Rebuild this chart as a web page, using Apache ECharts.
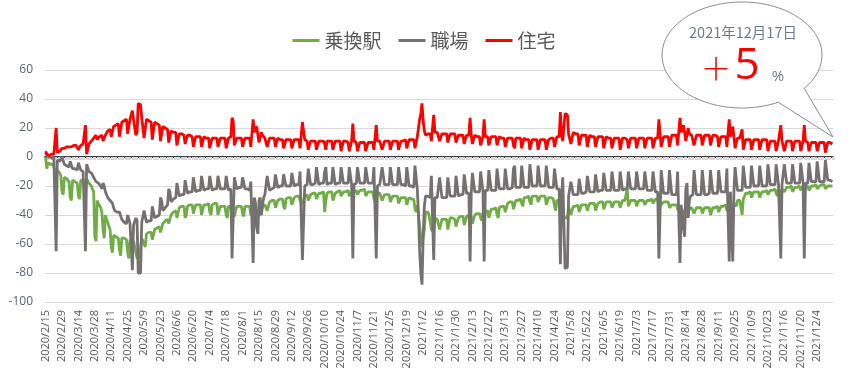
<!DOCTYPE html>
<html><head><meta charset="utf-8">
<script src="https://cdn.jsdelivr.net/npm/echarts@6/dist/echarts.min.js"></script>
<style>html,body{margin:0;padding:0;background:#fff}#c{width:848px;height:381px}</style>
</head><body><div id="c"></div>
<script>
// daily values from 2020/2/15 (Sat), grouped by week [Sat,Sun,Mon,Tue,Wed,Thu,Fri]
const seriesNames = ['乗換駅', '職場', '住宅'];
const startYear = 2020, startMonth = 2, startDay = 15;
const labelEvery = 14;
const yTicks = { min: -100, max: 60, step: 20 };

const transitWeeks = [
[0,-8,-4,-4,-5,-5,-5],[-5,-9,-12,-9,-10,-11,-13],[-24,-26,-14,-15,-15,-16,-17],[-28,-30,-16,-17,-17,-17,-18],
[-27,-29,-16,-16,-16,-17,-25],[-15,-14,-18,-19,-20,-21,-24],[-55,-58,-30,-32,-33,-35,-38],[-50,-56,-40,-43,-45,-48,-50],
[-62,-66,-54,-55,-55,-56,-56],[-64,-68,-56,-56,-56,-57,-57],[-66,-70,-57,-57,-66,-58,-58],[-66,-70,-69,-69,-68,-56,-56],
[-60,-62,-53,-53,-52,-52,-52],[-57,-58,-50,-49,-49,-48,-48],[-52,-53,-46,-45,-44,-44,-43],[-46,-47,-40,-39,-38,-38,-37],
[-42,-42,-35,-35,-34,-34,-34],[-42,-40,-34,-34,-33,-33,-33],[-39,-40,-33,-33,-33,-33,-33],[-40,-41,-33,-33,-33,-32,-32],
[-38,-40,-33,-33,-32,-32,-32],[-40,-41,-34,-34,-34,-34,-34],[-40,-42,-34,-34,-34,-38,-38],[-41,-42,-34,-34,-34,-34,-34],
[-39,-41,-34,-34,-34,-34,-34],[-40,-41,-38,-35,-36,-38,-40],[-40,-40,-37,-34,-33,-33,-33],[-37,-38,-31,-31,-30,-30,-30],
[-35,-36,-30,-30,-29,-29,-29],[-34,-36,-29,-29,-28,-28,-28],[-33,-34,-28,-28,-27,-27,-27],[-30,-31,-33,-33,-27,-27,-26],
[-30,-31,-26,-26,-25,-25,-25],[-29,-30,-25,-25,-25,-25,-24],[-38,-30,-25,-25,-24,-24,-24],[-30,-29,-25,-25,-24,-24,-23],
[-27,-28,-24,-24,-24,-23,-23],[-27,-28,-24,-30,-24,-23,-23],[-26,-27,-23,-23,-23,-23,-22],[-27,-28,-24,-24,-24,-24,-24],
[-29,-30,-31,-25,-25,-25,-25],[-30,-31,-26,-26,-26,-26,-26],[-31,-32,-27,-27,-27,-27,-27],[-32,-32,-28,-28,-28,-28,-28],
[-33,-34,-28,-28,-29,-29,-29],[-36,-38,-33,-40,-48,-55,-62],[-55,-50,-38,-37,-38,-40,-41],[-50,-50,-52,-42,-42,-43,-43],
[-50,-51,-43,-43,-43,-43,-43],[-50,-51,-42,-42,-42,-42,-43],[-48,-49,-42,-41,-41,-41,-41],[-47,-48,-41,-41,-40,-46,-41],
[-46,-47,-40,-39,-39,-39,-39],[-42,-44,-38,-44,-38,-37,-37],[-42,-43,-36,-36,-36,-35,-35],[-40,-42,-35,-34,-34,-34,-34],
[-38,-39,-32,-32,-31,-31,-31],[-36,-35,-30,-30,-30,-29,-29],[-32,-34,-28,-28,-28,-27,-27],[-31,-33,-27,-27,-27,-27,-27],
[-31,-32,-27,-27,-27,-27,-27],[-33,-34,-28,-28,-28,-28,-29],[-34,-37,-30,-30,-30,-40,-34],[-40,-41,-42,-42,-42,-34,-34],
[-40,-40,-34,-34,-34,-34,-33],[-38,-39,-33,-33,-33,-33,-33],[-37,-38,-32,-32,-32,-32,-32],[-37,-37,-32,-31,-31,-31,-31],
[-36,-36,-31,-31,-31,-31,-31],[-35,-36,-31,-31,-31,-31,-31],[-35,-35,-30,-30,-30,-30,-22],[-34,-35,-30,-30,-30,-30,-30],
[-34,-34,-30,-30,-30,-30,-30],[-33,-34,-30,-30,-30,-29,-29],[-32,-33,-29,-29,-29,-34,-35],[-33,-34,-31,-31,-31,-31,-31],
[-35,-36,-33,-33,-33,-33,-33],[-36,-37,-38,-35,-36,-38,-40],[-41,-41,-38,-36,-35,-35,-35],[-39,-40,-35,-35,-35,-35,-35],
[-39,-40,-35,-35,-35,-35,-35],[-40,-40,-35,-35,-35,-35,-34],[-38,-39,-34,-34,-34,-34,-33],[-37,-38,-38,-33,-33,-38,-32],
[-33,-34,-30,-30,-30,-30,-40],[-29,-30,-25,-25,-25,-25,-24],[-28,-29,-24,-24,-24,-24,-24],[-28,-28,-24,-24,-24,-24,-23],
[-26,-27,-23,-23,-23,-23,-22],[-25,-27,-22,-22,-27,-22,-21],[-24,-25,-21,-21,-21,-21,-20],[-24,-25,-21,-21,-21,-20,-20],
[-23,-24,-20,-26,-20,-20,-20],[-23,-24,-20,-20,-20,-20,-19],[-22,-23,-20,-19,-19,-19,-19],[-22,-23,-20,-20,-20,-20,-20]
];

const workplaceWeeks = [
[3,2,0,-1,0,-1,-1],[1,0,-65,-2,-3,-3,-4],[0,1,-5,-6,-6,-7,-7],[-3,-3,-8,-8,-8,-9,-9],
[-4,-4,-9,-9,-10,-10,-65],[-5,-6,-10,-10,-11,-12,-14],[-15,-17,-17,-18,-19,-20,-22],[-18,-20,-24,-26,-28,-29,-30],
[-30,-32,-35,-37,-38,-38,-39],[-38,-39,-43,-44,-45,-45,-46],[-40,-41,-46,-47,-78,-47,-47],[-42,-44,-80,-81,-80,-45,-46],
[-37,-38,-45,-45,-44,-44,-44],[-34,-35,-42,-42,-41,-40,-40],[-28,-30,-37,-36,-35,-34,-33],[-22,-24,-31,-30,-29,-29,-28],
[-18,-19,-27,-27,-26,-26,-26],[-16,-17,-25,-25,-24,-24,-24],[-14,-15,-24,-24,-23,-23,-23],[-13,-14,-23,-23,-22,-22,-22],
[-13,-14,-23,-22,-22,-22,-22],[-13,-14,-22,-22,-22,-22,-22],[-13,-14,-23,-23,-22,-70,-70],[-14,-15,-22,-22,-21,-21,-21],
[-14,-15,-22,-22,-22,-22,-23],[-17,-18,-73,-28,-32,-48,-53],[-30,-28,-40,-33,-28,-26,-25],[-13,-13,-23,-22,-22,-22,-21],
[-12,-12,-21,-21,-20,-20,-20],[-12,-11,-20,-20,-20,-20,-20],[-11,-11,-20,-20,-19,-19,-19],[-10,-10,-71,-71,-20,-19,-19],
[-8,-8,-19,-19,-19,-18,-18],[-7,-7,-19,-19,-18,-18,-18],[-10,-7,-19,-19,-18,-18,-18],[-7,-7,-19,-18,-18,-18,-18],
[-7,-6,-18,-18,-18,-18,-18],[-7,-7,-19,-70,-19,-18,-18],[-7,-6,-18,-18,-18,-18,-18],[-7,-7,-18,-18,-18,-18,-18],
[-7,-7,-70,-20,-19,-19,-19],[-7,-7,-19,-19,-19,-19,-19],[-7,-7,-19,-19,-19,-19,-19],[-7,-6,-19,-19,-19,-19,-20],
[-7,-7,-20,-20,-20,-20,-21],[-6,-5,-22,-40,-65,-80,-88],[-55,-34,-27,-26,-27,-28,-28],[-13,-12,-71,-28,-28,-28,-28],
[-14,-13,-28,-28,-28,-28,-28],[-14,-13,-27,-27,-27,-27,-27],[-13,-12,-27,-26,-26,-26,-26],[-12,-11,-25,-25,-25,-72,-25],
[-11,-10,-24,-24,-24,-24,-24],[-10,-9,-24,-72,-23,-23,-23],[-9,-8,-23,-23,-23,-23,-23],[-8,-8,-22,-22,-22,-22,-22],
[-8,-7,-22,-22,-22,-22,-21],[-8,-6,-21,-21,-21,-21,-21],[-6,-6,-21,-21,-21,-21,-21],[-5,-5,-20,-20,-20,-20,-20],
[-6,-5,-20,-20,-20,-20,-20],[-6,-6,-21,-21,-21,-21,-21],[-8,-9,-22,-22,-22,-74,-30],[-14,-15,-77,-77,-76,-27,-26],
[-17,-16,-26,-26,-26,-26,-26],[-15,-14,-25,-25,-25,-24,-24],[-13,-12,-24,-24,-24,-24,-24],[-12,-11,-24,-24,-23,-23,-23],
[-11,-10,-23,-23,-23,-23,-23],[-10,-10,-23,-23,-23,-23,-23],[-10,-9,-23,-23,-22,-22,-22],[-10,-10,-22,-22,-22,-22,-22],
[-10,-9,-22,-22,-22,-22,-22],[-10,-9,-23,-23,-23,-23,-23],[-10,-9,-24,-24,-24,-70,-70],[-9,-10,-25,-25,-25,-25,-25],
[-9,-9,-26,-26,-26,-26,-26],[-10,-11,-73,-33,-40,-50,-55],[-22,-18,-42,-30,-27,-26,-26],[-9,-9,-26,-26,-26,-26,-26],
[-9,-9,-26,-26,-26,-25,-25],[-9,-9,-25,-25,-25,-25,-25],[-9,-8,-24,-24,-24,-24,-24],[-8,-8,-72,-24,-24,-72,-24],
[-7,-7,-23,-23,-23,-23,-23],[-6,-6,-21,-21,-21,-21,-21],[-6,-5,-20,-20,-20,-20,-20],[-6,-5,-20,-20,-20,-20,-20],
[-5,-5,-19,-19,-19,-19,-19],[-5,-5,-19,-19,-70,-19,-19],[-5,-4,-18,-18,-18,-18,-18],[-5,-4,-18,-18,-18,-18,-18],
[-4,-4,-18,-70,-18,-18,-18],[-4,-3,-17,-17,-17,-17,-17],[-3,-3,-17,-17,-17,-17,-17],[-2,-1,-16,-16,-16,-17,-17]
];

const residentialWeeks = [
[4,2,1,1,1,2,2],[2,3,20,3,4,4,5],[6,6,6,6,7,7,7],[7,7,7,8,8,8,8],
[5,6,8,8,9,9,22],[2,1,9,10,11,12,13],[13,15,12,13,14,14,15],[11,12,15,16,18,18,19],
[14,15,21,22,22,23,23],[14,15,24,25,25,26,26],[16,17,26,27,32,26,27],[15,17,37,37,36,27,26],
[13,14,26,25,25,24,24],[12,12,24,23,23,22,22],[11,12,21,20,20,19,19],[10,10,18,17,17,17,17],
[8,9,16,16,16,15,15],[9,8,15,15,15,15,14],[7,7,14,14,14,14,14],[7,6,14,14,13,13,13],
[6,6,13,13,13,13,13],[7,6,13,13,13,13,13],[6,6,13,13,14,27,25],[8,7,13,13,13,13,13],
[7,6,13,13,13,13,13],[7,7,26,17,18,21,22],[10,9,17,15,14,13,13],[7,6,13,13,13,13,13],
[7,6,13,13,12,12,12],[6,5,12,12,12,12,12],[6,6,12,12,12,12,12],[6,6,24,23,12,12,11],
[5,5,11,11,11,11,11],[5,4,11,11,11,11,11],[9,5,11,11,11,11,11],[5,5,11,11,11,11,11],
[4,4,11,11,11,10,10],[4,4,11,23,11,10,10],[4,4,10,10,10,10,10],[4,4,10,10,10,10,10],
[5,5,22,11,11,11,11],[5,5,11,11,11,11,11],[5,5,11,11,11,11,11],[5,5,11,11,11,11,12],
[6,6,12,12,12,12,12],[6,6,14,20,26,30,37],[25,18,15,15,16,16,16],[11,11,29,17,17,17,17],
[11,10,16,16,16,16,16],[10,10,16,16,16,16,16],[10,9,15,15,15,15,15],[9,9,15,15,15,27,15],
[9,8,15,15,14,14,14],[8,8,14,26,14,14,14],[8,8,14,14,14,14,14],[8,7,14,14,13,13,13],
[7,7,13,13,13,13,13],[8,6,13,13,13,13,13],[6,5,13,13,12,12,12],[5,5,12,12,12,12,12],
[5,4,12,12,12,12,12],[5,5,12,12,13,13,13],[7,8,14,14,14,31,15],[11,12,30,30,29,16,16],
[9,9,17,16,16,16,16],[8,8,15,15,15,15,15],[7,7,15,15,14,14,14],[7,6,14,14,14,14,14],
[6,6,14,13,13,13,13],[6,5,13,13,13,13,13],[5,5,13,13,13,13,12],[6,5,13,13,13,13,13],
[6,5,13,13,13,13,13],[6,5,13,13,13,13,13],[6,5,13,13,13,26,25],[7,7,14,14,14,14,14],
[7,7,15,15,15,15,15],[8,8,27,17,19,22,23],[11,10,20,16,15,15,15],[8,7,15,15,15,15,15],
[8,7,15,15,15,15,15],[8,7,15,15,15,15,14],[7,7,14,14,14,14,14],[7,7,26,14,14,21,14],
[6,6,13,13,13,13,19],[5,5,12,12,12,12,12],[5,4,12,12,12,12,12],[5,4,12,12,12,12,12],
[4,4,11,11,11,11,11],[4,4,11,11,22,11,11],[4,4,11,11,11,11,11],[4,3,11,11,11,11,11],
[4,4,11,22,11,11,10],[4,3,10,10,10,10,10],[4,3,10,10,10,10,10],[3,3,10,10,10,10,9]
];

const calloutDate = '2021年12月17日';
const calloutValue = '5';

const transit = transitWeeks.flat();
const workplace = workplaceWeeks.flat();
const residential = residentialWeeks.flat();

const categories = [];
for (let i = 0; i < transit.length; i++) {
  const d = new Date(startYear, startMonth - 1, startDay + i);
  categories.push(d.getFullYear() + '/' + (d.getMonth() + 1) + '/' + d.getDate());
}

// speech-bubble outline (decoration): ellipse + tail
const bubble = (function () {
  const cx = 742, cy = 55, rx = 80, ry = 53;
  const pts = [];
  const a0 = 63, a1 = 400;
  for (let a = a0; a <= a1; a += 3) {
    const r = a * Math.PI / 180;
    pts.push([cx + rx * Math.cos(r), cy + ry * Math.sin(r)]);
  }
  pts.push([833, 137]);
  return pts;
})();

const FONT = "'Open Sans', 'Noto Sans CJK JP', sans-serif";
const chart = echarts.init(document.getElementById('c'), null, { renderer: 'canvas' });
chart.setOption({
  animation: false,
  backgroundColor: '#fff',
  textStyle: { fontFamily: FONT },
  legend: {
    data: seriesNames, left: 'center', top: 26,
    icon: 'rect', itemWidth: 27, itemHeight: 3, itemGap: 17,
    textStyle: { fontSize: 19, color: '#595959', fontFamily: "'Noto Sans CJK JP', sans-serif" }
  },
  grid: { left: 45, right: 15, top: 70, bottom: 79, containLabel: false },
  xAxis: [
    {
      type: 'category', data: categories, boundaryGap: true,
      axisLine: { show: false, onZero: false }, axisTick: { show: false },
      axisLabel: { interval: labelEvery - 1, rotate: 90, fontSize: 11, color: '#595959', margin: 8, fontFamily: FONT },
      splitLine: { show: false }
    },
    {
      type: 'category', data: categories, boundaryGap: true, position: 'bottom',
      axisLine: { show: true, onZero: true, lineStyle: { color: '#000', width: 1.5 } },
      axisTick: { show: true, interval: 2, length: 3, lineStyle: { color: '#d9d9d9', width: 3 } },
      axisLabel: { show: false }, splitLine: { show: false }
    }
  ],
  yAxis: {
    type: 'value', min: yTicks.min, max: yTicks.max, interval: yTicks.step,
    axisLine: { show: false }, axisTick: { show: false },
    axisLabel: { fontSize: 12, color: '#5a6470', margin: 12, fontFamily: FONT },
    splitLine: { lineStyle: { color: '#d9d9d9', width: 1 } }
  },
  series: [
    { name: seriesNames[0], type: 'line', data: transit, showSymbol: false, symbol: 'none',
      lineStyle: { color: '#70ad47', width: 2.8 }, itemStyle: { color: '#70ad47' }, z: 2 },
    { name: seriesNames[1], type: 'line', data: workplace, showSymbol: false, symbol: 'none',
      lineStyle: { color: '#767171', width: 2.8 }, itemStyle: { color: '#767171' }, z: 3 },
    { name: seriesNames[2], type: 'line', data: residential, showSymbol: false, symbol: 'none',
      lineStyle: { color: '#ff0000', width: 2.8 }, itemStyle: { color: '#ff0000' }, z: 4 }
  ],
  graphic: [
    { type: 'polygon', z: 100, shape: { points: bubble },
      style: { fill: '#fff', stroke: '#8c8c8c', lineWidth: 1 } },
    { type: 'text', z: 101, x: 743, y: 32,
      style: { text: calloutDate, fontSize: 14.5, fill: '#6f7b88', align: 'center', verticalAlign: 'middle', fontFamily: "'Noto Sans CJK JP', sans-serif" } },
    { type: 'text', z: 101, x: 716, y: 68,
      style: { text: '＋', fontSize: 31, fontWeight: 300, fill: '#ff0000', align: 'center', verticalAlign: 'middle', fontFamily: "'Noto Sans CJK JP', sans-serif" } },
    { type: 'text', z: 101, x: 747, y: 66,
      style: { text: calloutValue, fontSize: 44, fill: '#ff0000', align: 'center', verticalAlign: 'middle', fontFamily: "'Open Sans', sans-serif" } },
    { type: 'text', z: 101, x: 778, y: 77,
      style: { text: '%', fontSize: 15, fill: '#6f7b88', align: 'center', verticalAlign: 'middle', fontFamily: FONT } }
  ]
});
</script></body></html>
